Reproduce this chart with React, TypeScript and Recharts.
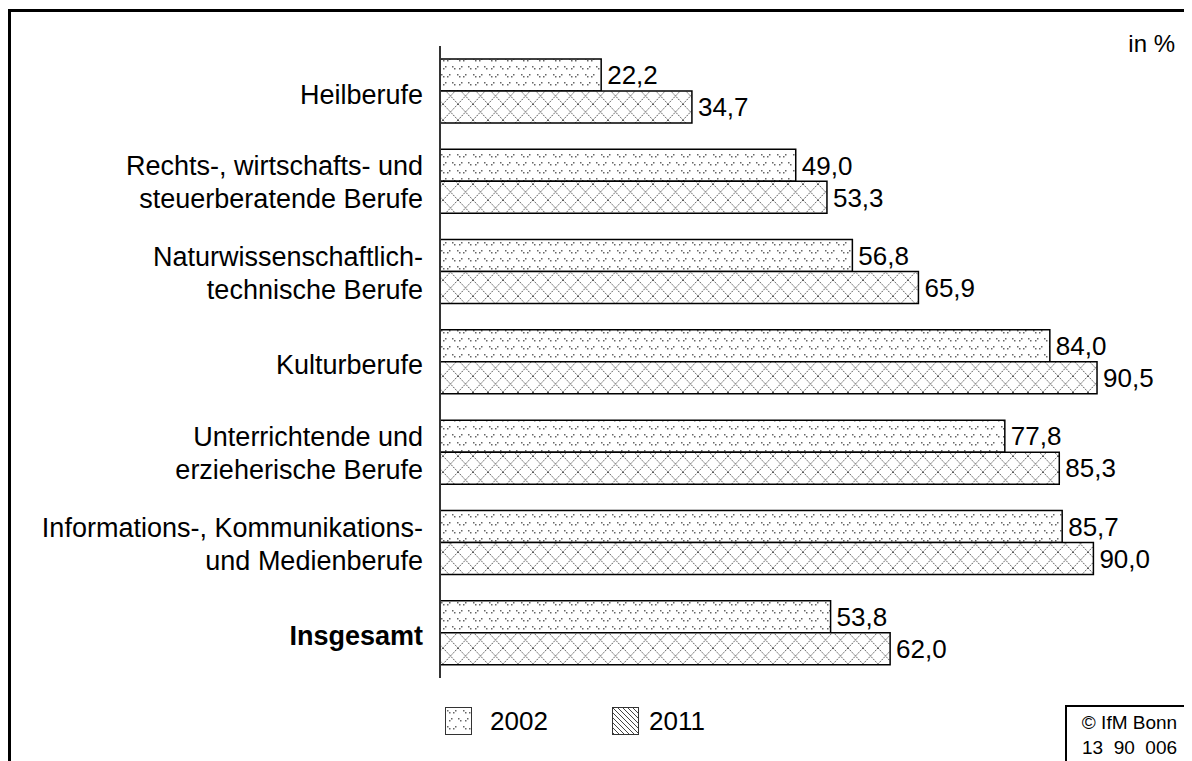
import { BarChart, Bar, XAxis, YAxis, LabelList } from 'recharts'

const categories = [
  'Heilberufe',
  'Rechts-, wirtschafts- und\nsteuerberatende Berufe',
  'Naturwissenschaftlich-\ntechnische Berufe',
  'Kulturberufe',
  'Unterrichtende und\nerzieherische Berufe',
  'Informations-, Kommunikations-\nund Medienberufe',
  'Insgesamt',
]
const values2002 = [22.2, 49.0, 56.8, 84.0, 77.8, 85.7, 53.8]
const values2011 = [34.7, 53.3, 65.9, 90.5, 85.3, 90.0, 62.0]
const seriesNames = ['2002', '2011']

const data = categories.map((name, i) => ({ name, y2002: values2002[i], y2011: values2011[i] }))

const FONT = '"Liberation Sans", Arial, sans-serif'
const fmt = (v: any) => Number(v).toFixed(1).replace('.', ',')

function CategoryTick({ y, payload }: any) {
  const lines = String(payload.value).split('\n')
  const bold = payload.value === 'Insgesamt'
  const lh = 33
  const start = lines.length > 1 ? -((lines.length - 1) * lh) / 2 + 1 : 3
  return (
    <text x={415} y={y} textAnchor="end" fontFamily={FONT} fontSize={27} fill="#000" fontWeight={bold ? 'bold' : 'normal'}>
      {lines.map((l, i) => (
        <tspan key={i} x={415} y={y + start + i * lh} dy="0.35em">{l}</tspan>
      ))}
    </text>
  )
}

function Patterns() {
  return (
    <svg width={0} height={0} style={{ position: 'absolute' }}>
      <defs>
        <pattern id="p2002" width={16} height={16} patternUnits="userSpaceOnUse">
          <rect width={16} height={16} fill="#fff" />
          <rect x={1} y={2} width={1.5} height={1.5} fill="#666" />
          <rect x={3} y={4} width={1.5} height={1.5} fill="#666" />
          <rect x={9} y={2} width={1.5} height={1.5} fill="#666" />
          <rect x={7} y={4} width={1.5} height={1.5} fill="#666" />
          <rect x={5} y={10} width={1.5} height={1.5} fill="#666" />
          <rect x={3} y={12} width={1.5} height={1.5} fill="#666" />
          <rect x={12} y={10} width={1.5} height={1.5} fill="#666" />
          <rect x={14} y={12} width={1.5} height={1.5} fill="#666" />
        </pattern>
        <pattern id="p2011" width={15} height={16} patternUnits="userSpaceOnUse">
          <rect width={15} height={16} fill="#fff" />
          <path d="M0,0 L15,16 M15,0 L0,16" stroke="#555" strokeWidth={1} strokeDasharray="1.5 1" />
        </pattern>
        <pattern id="hatch" width={5} height={5} patternUnits="userSpaceOnUse">
          <rect width={5} height={5} fill="#fff" />
          <path d="M-1,-1 L6,6 M-1,4 L1,6 M4,-1 L6,1" stroke="#444" strokeWidth={1} />
        </pattern>
      </defs>
    </svg>
  )
}

export default function App() {
  return (
    <div style={{ position: 'relative', width: 1184, height: 753, overflow: 'hidden', fontFamily: FONT }}>
      <Patterns />
      <div style={{ position: 'absolute', left: 0, top: 1, width: 1200, height: 800, borderTop: '3px solid #000', borderLeft: '3px solid #000' }} />
      <BarChart
        width={1184}
        height={753}
        data={data}
        layout="vertical"
        margin={{ top: 38, right: 26, left: 0, bottom: 83 }}
        barGap={0}
        style={{ position: 'absolute', left: 0, top: 0 }}
      >
        <XAxis type="number" domain={[0, 100]} hide />
        <YAxis
          type="category"
          dataKey="name"
          width={432}
          tickLine={false}
          axisLine={{ stroke: '#333', strokeWidth: 2 }}
          tick={<CategoryTick />}
          interval={0}
        />
        <Bar dataKey="y2002" name={seriesNames[0]} barSize={32} fill="url(#p2002)" stroke="#000" strokeWidth={1.5} isAnimationActive={false}>
          <LabelList dataKey="y2002" position="right" offset={6} formatter={fmt} fill="#000" fontSize={26} fontFamily={FONT} />
        </Bar>
        <Bar dataKey="y2011" name={seriesNames[1]} barSize={32} fill="url(#p2011)" stroke="#000" strokeWidth={1.5} isAnimationActive={false}>
          <LabelList dataKey="y2011" position="right" offset={6} formatter={fmt} fill="#000" fontSize={26} fontFamily={FONT} />
        </Bar>
      </BarChart>
      <div style={{ position: 'absolute', right: 17, top: 22, fontSize: 24 }}>in %</div>
      {/* legend */}
      <div style={{ position: 'absolute', left: 437, top: 699, width: 25, height: 26, border: '1.5px solid #333' }}>
        <svg width={25} height={26}><rect width={25} height={26} fill="url(#p2002)" /></svg>
      </div>
      <div style={{ position: 'absolute', left: 482, top: 698, fontSize: 26 }}>{seriesNames[0]}</div>
      <div style={{ position: 'absolute', left: 604, top: 699, width: 25, height: 26, border: '1.5px solid #333' }}>
        <svg width={25} height={26}><rect width={25} height={26} fill="url(#hatch)" /></svg>
      </div>
      <div style={{ position: 'absolute', left: 641, top: 698, fontSize: 26 }}>{seriesNames[1]}</div>
      {/* source box */}
      <div style={{ position: 'absolute', left: 1057, top: 697, width: 140, height: 80, borderTop: '2px solid #000', borderLeft: '2px solid #000', boxSizing: 'border-box' }} />
      <div style={{ position: 'absolute', left: 1059, top: 702, width: 125, textAlign: 'center', fontSize: 19, lineHeight: '25px' }}>
        © IfM Bonn<br />13&nbsp; 90&nbsp; 006
      </div>
    </div>
  )
}
